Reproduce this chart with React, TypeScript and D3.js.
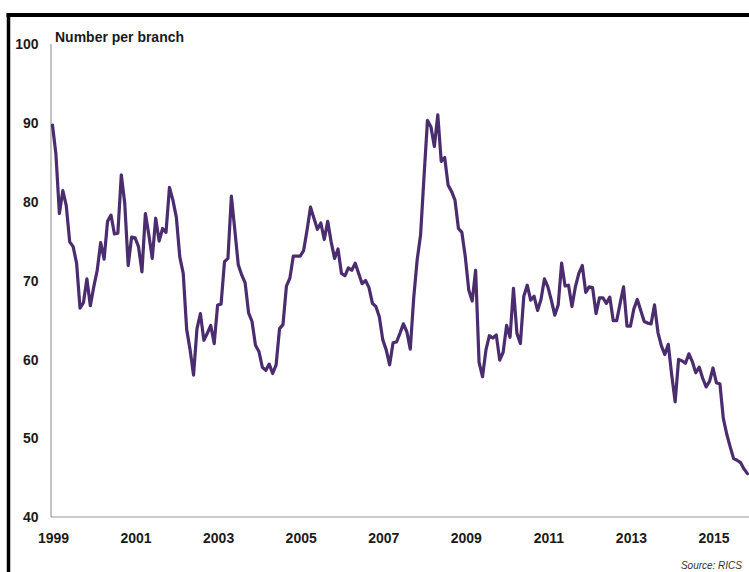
import React from "react";
import * as d3 from "d3";

const startYear = 1999;
const values: number[] = [
  // 1999
  89.7, 86.0, 78.5, 81.4, 79.5, 74.9, 74.3, 72.2, 66.5, 67.2, 70.2, 66.8,
  // 2000
  69.2, 71.3, 74.8, 72.7, 77.5, 78.3, 75.9, 76.0, 83.4, 79.8, 71.9, 75.5,
  // 2001
  75.4, 74.3, 71.1, 78.5, 75.8, 72.8, 77.9, 75.0, 76.6, 76.1, 81.8, 80.2,
  // 2002
  78.0, 73.0, 70.9, 63.8, 61.2, 58.0, 63.9, 65.8, 62.4, 63.3, 64.3, 62.0,
  // 2003
  66.9, 67.0, 72.4, 72.8, 80.7, 76.4, 72.0, 70.7, 69.7, 65.9, 64.8, 61.8,
  // 2004
  61.0, 59.0, 58.6, 59.4, 58.2, 59.3, 63.9, 64.4, 69.3, 70.3, 73.1, 73.1,
  // 2005
  73.1, 73.8, 76.4, 79.3, 77.9, 76.5, 77.3, 75.2, 77.5, 74.9, 72.8, 74.0,
  // 2006
  70.9, 70.6, 71.6, 71.3, 72.2, 70.9, 69.6, 70.0, 69.1, 67.1, 66.7, 65.4,
  // 2007
  62.5, 61.2, 59.3, 62.1, 62.2, 63.3, 64.5, 63.5, 61.3, 67.8, 72.6, 75.8,
  // 2008
  83.2, 90.3, 89.5, 87.0, 91.0, 85.1, 85.6, 82.1, 81.3, 80.2, 76.6, 76.1,
  // 2009
  73.0, 68.8, 67.4, 71.3, 59.6, 57.8, 61.2, 63.0, 62.7, 63.1, 59.9, 60.9,
  // 2010
  64.3, 62.8, 69.0, 63.3, 62.0, 68.0, 69.4, 67.5, 68.0, 66.2, 67.6, 70.2,
  // 2011
  69.2, 67.5, 65.6, 66.9, 72.2, 69.3, 69.4, 66.7, 69.2, 70.9, 71.9, 68.5,
  // 2012
  69.2, 69.1, 65.8, 67.8, 67.8, 67.1, 67.9, 64.9, 64.9, 67.1, 69.2, 64.2,
  // 2013
  64.2, 66.4, 67.6, 66.2, 64.8, 64.6, 64.5, 66.9, 63.4, 61.7, 60.6, 61.9,
  // 2014
  58.0, 54.6, 60.0, 59.8, 59.5, 60.7, 59.7, 58.3, 59.0, 57.6, 56.5, 57.2,
  // 2015
  58.9, 57.0, 56.9, 52.5, 50.5, 48.9, 47.4, 47.2, 46.9, 46.1, 45.5,
];

const yTicks = [40, 50, 60, 70, 80, 90, 100];
const xTicks = [1999, 2001, 2003, 2005, 2007, 2009, 2011, 2013, 2015];
const yTitle = "Number per branch";
const source = "Source: RICS";

const W = 749;
const H = 572;

export default function App() {
  const x = d3.scaleLinear().domain([1999, 2015]).range([52.5, 713]);
  const y = d3.scaleLinear().domain([40, 100]).range([517, 44]);

  const pts = values.map((v, i) => ({ t: startYear + i / 12, v }));
  const line = d3
    .line<{ t: number; v: number }>()
    .x((d) => x(d.t))
    .y((d) => y(d.v));

  const font = "'Liberation Sans', Arial, sans-serif";

  return (
    <svg
      width={W}
      height={H}
      viewBox={`0 0 ${W} ${H}`}
      style={{ position: "absolute", left: 0, top: 0, background: "#fff" }}
    >
      <rect x={0} y={0} width={W} height={H} fill="#fff" />
      {/* frame */}
      <line x1={6.5} y1={15} x2={W} y2={15} stroke="#000" strokeWidth={4} />
      <line x1={8.5} y1={13} x2={8.5} y2={H} stroke="#000" strokeWidth={3.5} />

      {/* axes */}
      <line x1={51} y1={y(100)} x2={51} y2={y(40)} stroke="#9a9a9a" strokeWidth={1.2} />
      <line x1={51} y1={y(40)} x2={W} y2={y(40)} stroke="#9a9a9a" strokeWidth={1.2} />

      {yTicks.map((t) => (
        <text
          key={t}
          transform={`translate(38.5, ${y(t)}) scale(1,1.1)`}
          textAnchor="end"
          dominantBaseline="central"
          fontFamily={font}
          fontWeight="bold"
          fontSize={14}
          fill="#1a1a1a"
        >
          {t}
        </text>
      ))}

      {xTicks.map((t) => (
        <text
          key={t}
          transform={`translate(${x(t) + 1}, 543) scale(1,1.1)`}
          textAnchor="middle"
          fontFamily={font}
          fontWeight="bold"
          fontSize={14}
          fill="#1a1a1a"
        >
          {t}
        </text>
      ))}

      <text
        transform="translate(55, 42) scale(1,1.1)"
        fontFamily={font}
        fontWeight="bold"
        fontSize={14}
        fill="#1a1a1a"
      >
        {yTitle}
      </text>

      <text
        transform="translate(742, 569) scale(1,1.15)"
        textAnchor="end"
        fontFamily={font}
        fontStyle="italic"
        fontSize={10}
        fill="#333"
      >
        {source}
      </text>

      <path
        d={line(pts) || ""}
        fill="none"
        stroke="#4b2d6f"
        strokeWidth={3.2}
        strokeLinejoin="round"
        strokeLinecap="round"
      />
    </svg>
  );
}
